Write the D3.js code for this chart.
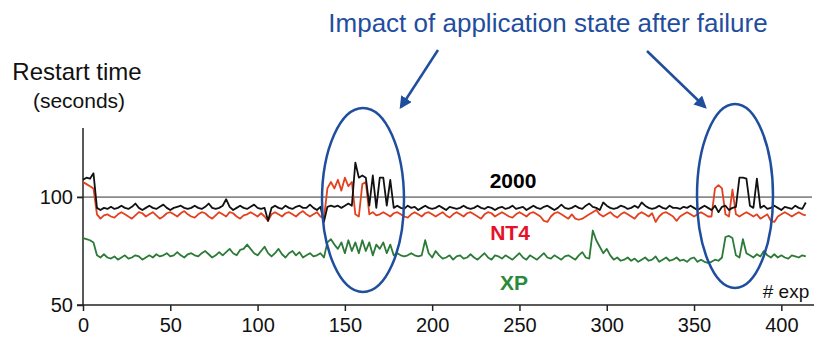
<!DOCTYPE html>
<html><head><meta charset="utf-8">
<script src="https://cdn.jsdelivr.net/npm/d3@7"></script>
<style>body{margin:0;background:#fff}svg{display:block}text{font-family:"Liberation Sans",Arial,sans-serif}</style>
</head><body>
<svg id="c" width="814" height="347"></svg>
<script>
// x positions: experiment number, every 2nd experiment (0,2,...,414)
const expStep = 2;
const xTicks = [0,50,100,150,200,250,300,350,400];
const yTicks = [50,100];
const seriesNames = ["2000","NT4","XP"];

const win2000 = [
108,109,108.5,111,95,94,95,94.5,95.5,94.5,
95,96,95,94.5,95.5,97,95,94,95,96,
95,94.5,95.5,96.5,95,94,95,95.5,96,95,
94.5,95,96,95,94.5,95.5,97,95,94.5,95,
96,99,95.5,94,95,96,95,94.5,95.5,96.5,
95,94.5,95,89,95,96,95,94.5,96,95,
94.5,95.5,96,95,95,96.5,95,94,95.5,88.5,
95.5,96,95.5,96,95,96,97,96,116,109,
110,109,96,110,95,109,109,96,108,95,
96,95,94.5,96,95,95.5,94,95,96,95,
94.5,95,96,95,94,95.5,95,94.5,95,96,
95,94.5,95,96,95,94.5,95.5,95,94,95,
95.5,94.5,95,96,94.5,95,95.5,94,95,96,
95,94.5,95.5,96,95,94,95,96.5,95,94.5,
95,96,95,94.5,96,97,95.5,95,94,97.5,
96,95,94.5,95,96,95.5,94.5,95,96,95,
97.5,96,95,94.5,95,96,95,94.5,96,95,
95,94.5,95.5,95,96,95,94,95,96,95,
94,96,93,95.5,96,94,95,95.5,109,109,
108.5,96,95,108.5,95,96,94.5,95,96,95,
94,95.5,95,94.5,96,95,94.5,97.5];

const nt4 = [
107,106,105,104,92,90,91.5,92,91,90.5,
92,93,92,91,90,91.5,93,92.5,91,92,
93,91.5,90,91,92.5,93,92,91,92.5,93.5,
92,91,90.5,92,93,92.5,91,90,91.5,93,
92,91,93,92.5,91,90,91.5,92,93,92,
91,92.5,91,89,92,93,92,91,92.5,93,
92,91,92.5,93.5,92,91,92,93,91,90,
104,107,104,108,103,109,105,107,92,91,
106,107,92,93,91.5,92,93,92,91,92.5,
93,92,91,90.5,92,93,92,91,92.5,93,
92,91,92,93,91.5,90.5,92,93,92,91,
92.5,93,92,91,90,92,93,92.5,91,92,
93,92,91,90.5,92,93,92,91,92.5,93,
92,91,89,88.5,91,92.5,93,92,91,90,
92,90,89.5,90,91,92,93,94,92,91,
92,93,91.5,90.5,92,93,92,91,90,92,
93,92,91,92.5,88.5,91,92.5,93,92,91,
89,91,92,93,92,91,92,93,92,91,
91,104,105.5,104,92,91,103.5,92,91,92,
93,92,91,92,90,91,92,89,88.5,91,
92,93,92,91,92,93,92,91.5];

const xp = [
81,80.5,80,79,73,72,73.5,72,71.5,72.5,
71,72,73,71.5,72,73,72.5,71,72,73,
72,73.5,72.5,73,74,72.5,73,74.5,73,72,
73.5,74,73,72.5,74,75,73.5,72,73,74.5,
73,74.5,76,74,73,75.5,76,78,76,74,
73,75,77,74,72.5,74,76,73.5,72,74,
75,73,74.5,72,73,74,72.5,73,74,72,
79,80.5,78,76,79,74,80,75,79,74,
80,75,79,73,78,76,79,74,78,73,
74,73,72.5,73,74,73,72.5,73,80,74,
72,75,73,71.5,72,73,71,72.5,73,71.5,
72,73.5,72,71,72.5,74,72,71,73,72.5,
71.5,73,72,71,72.5,74,72,71,73,72,
71,72.5,74,72,71.5,73,72,71,72.5,73,
72,71,73,74.5,72,71.5,84.5,80,77,74,
76,73,71,72,70.5,71,72,70.5,71.5,70,
71,72,70.5,71,72.5,70,71,72,70.5,71,
72,70.5,71,70,71.5,72,70,71,70,69.5,
70,71,70.5,72,81.5,82,81,73,72,80.5,
74,73,72,73.5,72.5,75,73,72,73.5,72,
73,72,71.5,73,72.5,72,73,72.5];

const lineColors = ["#111111","#e2401f","#2c7a37"];
const labelColors = ["#000000","#e8102a","#2a8a3a"];
const blue = "#1f4e9e";

const svg = d3.select("#c");
const x = d3.scaleLinear().domain([0,419]).range([83,814.5]);
const y = d3.scaleLinear().domain([50,132]).range([305,128]);

// gridline at 100
svg.append("line").attr("x1",77).attr("x2",812).attr("y1",y(100)).attr("y2",y(100))
  .attr("stroke","#333").attr("stroke-width",1);

// axes
const yAxis = svg.append("g").attr("transform","translate(83,0)")
  .call(d3.axisLeft(y).tickValues(yTicks).tickSize(6).tickPadding(4));
yAxis.select(".domain").attr("d",`M0,${y(132)}V${y(50)}`).attr("stroke","#222").attr("stroke-width",1.5);
yAxis.selectAll(".tick line").attr("stroke","#222").attr("stroke-width",1.5);
yAxis.selectAll("text").attr("font-size",20).attr("fill","#111").attr("font-family","Liberation Sans, Arial, sans-serif");

const xAxis = svg.append("g").attr("transform",`translate(0,${y(50)})`)
  .call(d3.axisBottom(x).tickValues(xTicks).tickSize(6).tickPadding(7));
xAxis.select(".domain").attr("d",`M77,0H814`).attr("stroke","#222").attr("stroke-width",1.5);
xAxis.selectAll(".tick line").attr("stroke","#222").attr("stroke-width",1.5);
xAxis.selectAll("text").attr("font-size",20).attr("fill","#111").attr("font-family","Liberation Sans, Arial, sans-serif");

// series
const line = d3.line().x((d,i)=>x(i*expStep)).y(d=>y(d));
[xp, nt4, win2000].forEach((s,k)=>{
  const idx = [2,1,0][k];
  svg.append("path").datum(s).attr("d",line).attr("fill","none")
    .attr("stroke",lineColors[idx]).attr("stroke-width",1.8).attr("stroke-linejoin","round");
});

// series labels
const labelPos = [[513,188],[510,240],[514,290]];
seriesNames.forEach((n,i)=>{
  svg.append("text").attr("x",labelPos[i][0]).attr("y",labelPos[i][1]).attr("text-anchor","middle")
    .attr("font-size",21).attr("font-weight","bold").attr("fill",labelColors[i]).text(n);
});
svg.append("text").attr("x",786).attr("y",298).attr("text-anchor","middle").attr("font-size",19).attr("fill","#111").text("# exp");

// axis title
svg.append("text").attr("x",77).attr("y",80).attr("text-anchor","middle").attr("font-size",24).attr("fill","#111").text("Restart time");
svg.append("text").attr("x",79).attr("y",108).attr("text-anchor","middle").attr("font-size",21).attr("fill","#111").text("(seconds)");

// annotation
svg.append("text").attr("x",548).attr("y",32).attr("text-anchor","middle").attr("font-size",26).attr("fill",blue)
  .text("Impact of application state after failure");
svg.append("ellipse").attr("cx",363).attr("cy",200).attr("rx",41).attr("ry",92).attr("fill","none").attr("stroke",blue).attr("stroke-width",2.5);
svg.append("ellipse").attr("cx",735).attr("cy",196).attr("rx",38).attr("ry",92).attr("fill","none").attr("stroke",blue).attr("stroke-width",2.5);

const defs = svg.append("defs");
defs.append("marker").attr("id","ah").attr("viewBox","0 0 10 10").attr("refX",8).attr("refY",5)
  .attr("markerWidth",5).attr("markerHeight",5).attr("orient","auto")
  .append("path").attr("d","M0,0L10,5L0,10Z").attr("fill",blue);
svg.append("line").attr("x1",438).attr("y1",50).attr("x2",401).attr("y2",107).attr("stroke",blue).attr("stroke-width",2.5).attr("marker-end","url(#ah)");
svg.append("line").attr("x1",647).attr("y1",51).attr("x2",705).attr("y2",107).attr("stroke",blue).attr("stroke-width",2.5).attr("marker-end","url(#ah)");
</script>
</body></html>
